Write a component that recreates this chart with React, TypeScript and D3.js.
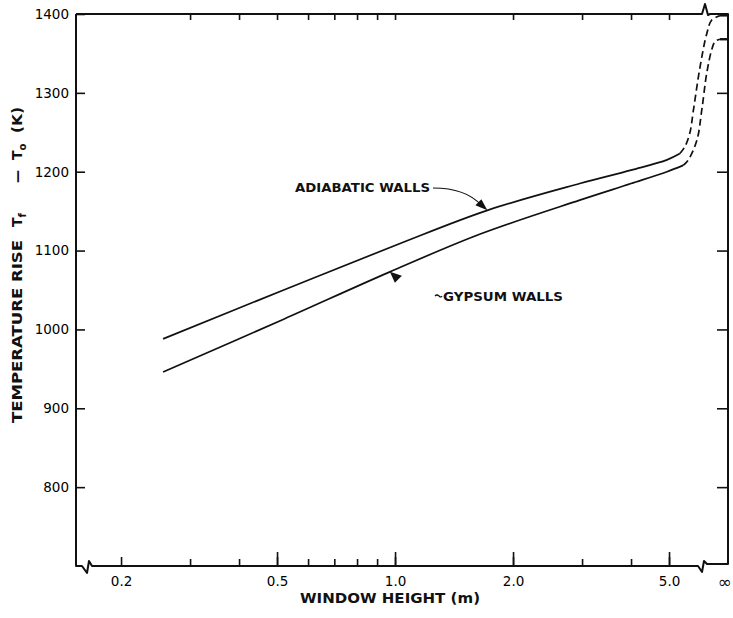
import React, { useEffect, useRef } from "react";
import * as d3 from "d3";

// Window height (m) vs temperature rise (K)
const adiabaticX = [0.256, 0.52, 1.03, 1.72, 2.96, 4.0, 4.94, 5.33];
const adiabaticT = [988, 1050, 1109, 1151, 1185, 1202, 1215, 1223];
const gypsumX = [0.256, 0.52, 0.97, 1.65, 2.96, 4.0, 4.94, 5.43];
const gypsumT = [946, 1013, 1073, 1121, 1164, 1185, 1200, 1208];

// dashed part going up to the infinite window
const adiabaticDashX = [5.33, 5.49, 5.65, 5.77, 6.0, 6.24, 6.42, 6.74];
const adiabaticDashT = [1223, 1232, 1249, 1278, 1333, 1375, 1392, 1398];
const gypsumDashX = [5.43, 5.6, 5.89, 6.06, 6.24, 6.42, 6.55, 6.74];
const gypsumDashT = [1208, 1215, 1240, 1278, 1325, 1354, 1365, 1368];

// values at infinity
const adiabaticInf = 1398;
const gypsumInf = 1368;

const yTicks = [800, 900, 1000, 1100, 1200, 1300, 1400];
const xLabelTicks = [0.2, 0.5, 1, 2, 5];
const xLabels = ["0.2", "0.5", "1.0", "2.0", "5.0"];
const xLongTicks = [0.5, 1, 2, 5];
const xMinorTicks = [0.3, 0.4, 0.6, 0.7, 0.8, 0.9, 3, 4];

const width = 733;
const height = 618;
const left = 76;
const right = 728;
const top = 14;
const bottom = 566;

const font = "'DejaVu Sans', sans-serif";

const x = d3.scaleLog().domain([0.1535, 7.07]).range([left, right]);
const y = d3.scaleLinear().domain([700, 1400]).range([bottom, top]);

type Pt = { x: number; t: number };
const pts = (xs: number[], ts: number[]): Pt[] => xs.map((v, i) => ({ x: v, t: ts[i] }));
const xPos = (v: number) => (isFinite(v) ? x(v) : right);

const line = d3
  .line<Pt>()
  .x((d) => xPos(d.x))
  .y((d) => y(d.t))
  .curve(d3.curveCatmullRom.alpha(0.5));

const App = () => {
  const axesRef = useRef<SVGGElement>(null);

  useEffect(() => {
    document.body.style.margin = "0";
    const g = d3.select(axesRef.current);
    g.selectAll("*").remove();

    const style = (sel: any) => {
      sel.select(".domain").remove();
      sel.selectAll("line").attr("stroke", "#111").attr("stroke-width", 1.6);
      sel.selectAll("text").attr("font-family", font).attr("font-size", 13.5).attr("fill", "#000");
    };

    g.append("g")
      .attr("transform", `translate(${left},0)`)
      .call(d3.axisLeft(y).tickValues(yTicks).tickSizeInner(-9).tickSizeOuter(0).tickPadding(7).tickFormat(d3.format("d")))
      .call(style);

    g.append("g")
      .attr("transform", `translate(${right},0)`)
      .call(d3.axisRight(y).tickValues(yTicks.slice(0, -1)).tickSizeInner(-11).tickSizeOuter(0).tickFormat(() => ""))
      .call(style);

    g.append("g")
      .attr("transform", `translate(0,${bottom})`)
      .call(
        d3.axisBottom(x).tickValues(xLabelTicks).tickSizeInner(-9).tickSizeOuter(0).tickPadding(10)
          .tickFormat((d, i) => xLabels[i])
      )
      .call(style);

    g.append("g")
      .attr("transform", `translate(0,${bottom})`)
      .call(d3.axisBottom(x).tickValues(xLongTicks).tickSizeInner(-14).tickSizeOuter(0).tickFormat(() => ""))
      .call(style);

    g.append("g")
      .attr("transform", `translate(0,${bottom})`)
      .call(d3.axisBottom(x).tickValues(xMinorTicks).tickSizeInner(-7).tickSizeOuter(0).tickFormat(() => ""))
      .call(style);

    g.append("g")
      .attr("transform", `translate(0,${top})`)
      .call(d3.axisTop(x).tickValues([...xMinorTicks, ...xLongTicks]).tickSizeInner(-6).tickSizeOuter(0).tickFormat(() => ""))
      .call(style);
  }, []);

  // frame with the axis breaks
  const frame =
    `M${left},${top} L${left},${bottom} L${left + 6},${bottom} L${left + 11},${bottom + 7} L${left + 13},${bottom - 5} L${left + 16},${bottom} ` +
    `L${right - 30},${bottom} L${right - 26},${bottom + 6} L${right - 24},${bottom - 5} L${right - 21},${bottom - 2} L${right},${bottom - 2} ` +
    `L${right},${top} L${right - 18},${top} L${right - 20},${top + 1} L${right - 23},${top - 10} L${right - 26},${top} L${left},${top}`;

  const adiabatic = pts(adiabaticX, adiabaticT);
  const gypsum = pts(gypsumX, gypsumT);
  const adiabaticDash = pts(adiabaticDashX, adiabaticDashT);
  const gypsumDash = pts(gypsumDashX, gypsumDashT);
  const adiabaticEnd = [adiabaticDash[adiabaticDash.length - 1], { x: Infinity, t: adiabaticInf }];
  const gypsumEnd = [gypsumDash[gypsumDash.length - 1], { x: Infinity, t: gypsumInf }];

  // arrow tips sit on the curves
  const aTip = [x(1.72), y(1151)];
  const gTip = [x(0.97), y(1073)];

  return (
    <svg width={width} height={height} style={{ display: "block", background: "#fff" }}>
      <path d={frame} fill="none" stroke="#111" strokeWidth={2} strokeLinejoin="round" />
      <g ref={axesRef}></g>
      <text x={732} y={588} textAnchor="end" fontFamily={font} fontSize={17} fill="#111">∞</text>

      <path d={line(adiabatic) ?? ""} fill="none" stroke="#111" strokeWidth={1.7} />
      <path d={line(gypsum) ?? ""} fill="none" stroke="#111" strokeWidth={1.7} />
      <path d={line(adiabaticDash) ?? ""} fill="none" stroke="#111" strokeWidth={1.7} strokeDasharray="7,4" />
      <path d={line(gypsumDash) ?? ""} fill="none" stroke="#111" strokeWidth={1.7} strokeDasharray="7,4" />
      <path d={line(adiabaticEnd) ?? ""} fill="none" stroke="#111" strokeWidth={2} />
      <path d={line(gypsumEnd) ?? ""} fill="none" stroke="#111" strokeWidth={2.4} />

      {/* annotations */}
      <text x={295} y={192} fontFamily={font} fontWeight="bold" fontSize={12} textLength={135} lengthAdjust="spacingAndGlyphs" fill="#111">
        ADIABATIC WALLS
      </text>
      <path d={`M433,188 Q466,188 ${aTip[0] - 6},${aTip[1] - 5}`} fill="none" stroke="#111" strokeWidth={1.2} />
      <path
        d={`M${aTip[0]},${aTip[1]} L${aTip[0] - 12},${aTip[1] - 5} L${aTip[0] - 6},${aTip[1] - 11} Z`}
        fill="#111"
      />

      <text x={443} y={301} fontFamily={font} fontWeight="bold" fontSize={12} textLength={120} lengthAdjust="spacingAndGlyphs" fill="#111">
        GYPSUM WALLS
      </text>
      <path d="M435,296 q2,-2 4,0 t3,0" fill="none" stroke="#111" strokeWidth={1.2} />
      <path
        d={`M${gTip[0]},${gTip[1]} L${gTip[0] + 12},${gTip[1] + 4} L${gTip[0] + 5},${gTip[1] + 11} Z`}
        fill="#111"
      />

      {/* axis titles */}
      <text x={300} y={603} fontFamily={font} fontWeight="bold" fontSize={14} textLength={180} lengthAdjust="spacingAndGlyphs" fill="#111">
        WINDOW HEIGHT (m)
      </text>
      <g transform="translate(22,0) rotate(-90)" fontFamily={font} fontWeight="bold" fontSize={14} fill="#111">
        <text x={-423} y={0} textLength={183} lengthAdjust="spacingAndGlyphs">TEMPERATURE RISE</text>
        <text x={-227} y={0}>
          T<tspan fontSize={10} dy={4}>f</tspan>
        </text>
        <text x={-183} y={0} textLength={13} lengthAdjust="spacingAndGlyphs">—</text>
        <text x={-160} y={0}>
          T<tspan fontSize={10} dy={4}>o</tspan>
        </text>
        <text x={-133} y={0} textLength={26} lengthAdjust="spacingAndGlyphs">(K)</text>
      </g>
    </svg>
  );
};

export default App;
